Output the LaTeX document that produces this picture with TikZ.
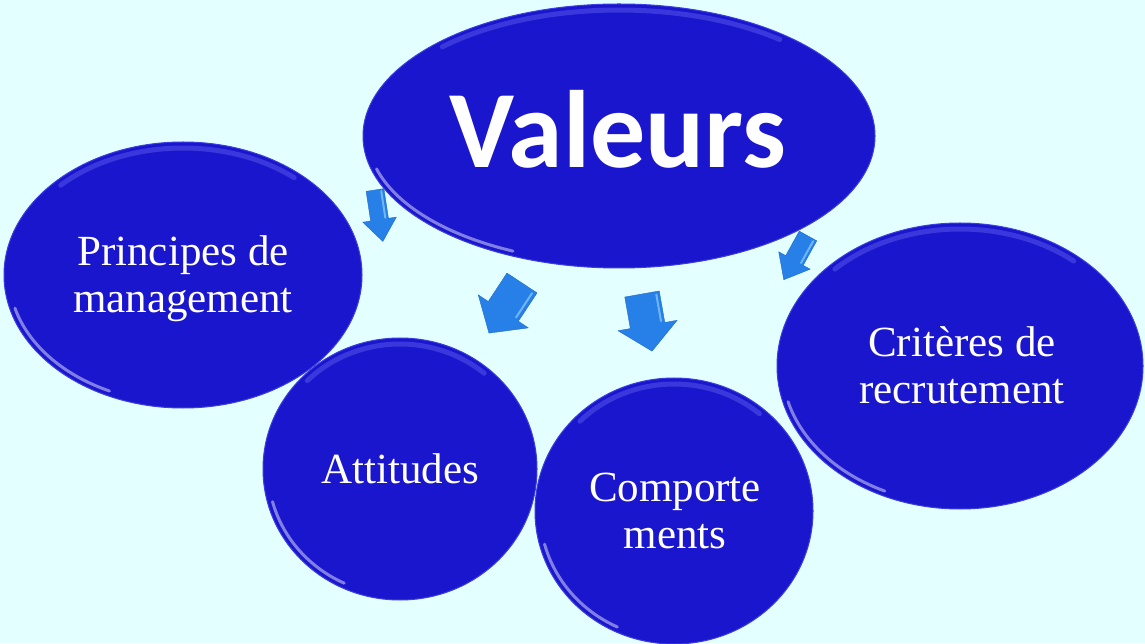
\documentclass[tikz,border=0pt]{standalone}
\usepackage{fontspec}
\setmainfont{Liberation Serif}
\newfontfamily\valfont{Carlito}
\usetikzlibrary{shapes.geometric}
\definecolor{bg}{RGB}{228,255,255}
\definecolor{bub}{RGB}{26,22,205}
\definecolor{bubedge}{RGB}{60,60,225}
\definecolor{glowc}{RGB}{120,120,248}
\definecolor{arr}{RGB}{38,128,232}
\definecolor{arrhi}{RGB}{130,195,252}
\begin{document}
\begin{tikzpicture}[x=1pt,y=1pt,
  bubble/.style={ellipse, fill=bub, draw=bubedge, line width=1pt, inner sep=0pt},
  lbl/.style={text=white, align=center, font=\fontsize{43}{47}\selectfont, inner sep=0pt},
  sheen/.style={white, line width=3pt, opacity=0.45, line cap=round},
  glow/.style={glowc, line width=5pt, opacity=0.35, line cap=round},
  barrow/.style={fill=arr, draw=arr!85!black, line width=0.4pt, line join=round},
  arrowlight/.style={arrhi, line width=2pt, opacity=0.8, line cap=round}]
  \fill[bg] (0,0) rectangle (1145,643);
  \useasboundingbox (0,0) rectangle (1145,643);

  % bubbles
  \node[bubble, minimum width=358pt, minimum height=266pt] (princ) at (183,368) {};
  \node[bubble, minimum width=274pt, minimum height=262pt] (att) at (400,174) {};
  \node[bubble, minimum width=278pt, minimum height=266pt] (comp) at (674,132) {};
  \node[bubble, minimum width=366pt, minimum height=286pt] (crit) at (960,277) {};
  \node[bubble, minimum width=512pt, minimum height=264pt] (val) at (619,507) {};

  % sheen highlights
  \draw[glow]  ([shift={(50:173 and 127)}]princ.center) arc[start angle=50, end angle=135, x radius=173, y radius=127];
  \draw[sheen] ([shift={(195:174 and 128)}]princ.center) arc[start angle=195, end angle=245, x radius=174, y radius=128];
  \draw[glow]  ([shift={(50:131 and 125)}]att.center) arc[start angle=50, end angle=135, x radius=131, y radius=125];
  \draw[sheen] ([shift={(195:132 and 126)}]att.center) arc[start angle=195, end angle=245, x radius=132, y radius=126];
  \draw[glow]  ([shift={(50:133 and 127)}]comp.center) arc[start angle=50, end angle=135, x radius=133, y radius=127];
  \draw[sheen] ([shift={(195:134 and 128)}]comp.center) arc[start angle=195, end angle=245, x radius=134, y radius=128];
  \draw[glow]  ([shift={(50:177 and 137)}]crit.center) arc[start angle=50, end angle=135, x radius=177, y radius=137];
  \draw[sheen] ([shift={(195:178 and 138)}]crit.center) arc[start angle=195, end angle=245, x radius=178, y radius=138];
  \draw[glow]  ([shift={(50:250 and 126)}]val.center) arc[start angle=50, end angle=135, x radius=250, y radius=126];
  \draw[sheen] ([shift={(195:251 and 127)}]val.center) arc[start angle=195, end angle=245, x radius=251, y radius=127];

  % labels
  \node[text=white, inner sep=0pt, anchor=base, font=\valfont\bfseries\fontsize{110}{120}\selectfont] (tval) at (618,475) {Valeurs};
  \node[lbl] (tprinc) at (183,364.5) {Principes de\\management};
  \node[lbl, anchor=base] (tatt) at (400,160) {Attitudes};
  \node[lbl] (tcomp) at (675,132.3) {Comporte\\ments};
  \node[lbl] (tcrit) at (962,277.5) {Critères de\\recrutement};

  % block arrows
  \path[barrow, shift={(375,453)}, rotate=-81.3] (0,-9) -- (30,-9) -- (30,-17) -- (52,0) -- (30,17) -- (30,9) -- (0,9) -- cycle;
  \draw[arrowlight, shift={(375,453)}, rotate=-81.3] (2,6) -- (29,6);
  \path[barrow, shift={(522,360)}, rotate=-123.4] (0,-18) -- (34,-18) -- (34,-30) -- (60,0) -- (34,30) -- (34,18) -- (0,18) -- cycle;
  \draw[arrowlight, shift={(522,360)}, rotate=-123.4] (3,14) -- (32,14);
  \path[barrow, shift={(642,349)}, rotate=-80] (0,-17.5) -- (32,-17.5) -- (32,-30) -- (58,0) -- (32,30) -- (32,17.5) -- (0,17.5) -- cycle;
  \draw[arrowlight, shift={(642,349)}, rotate=-80] (3,14) -- (30,14);
  \path[barrow, shift={(808,407)}, rotate=-119] (0,-10) -- (28,-10) -- (28,-18) -- (50,0) -- (28,18) -- (28,10) -- (0,10) -- cycle;
  \draw[arrowlight, shift={(808,407)}, rotate=-119] (2,7) -- (27,7);
\end{tikzpicture}
\end{document}
